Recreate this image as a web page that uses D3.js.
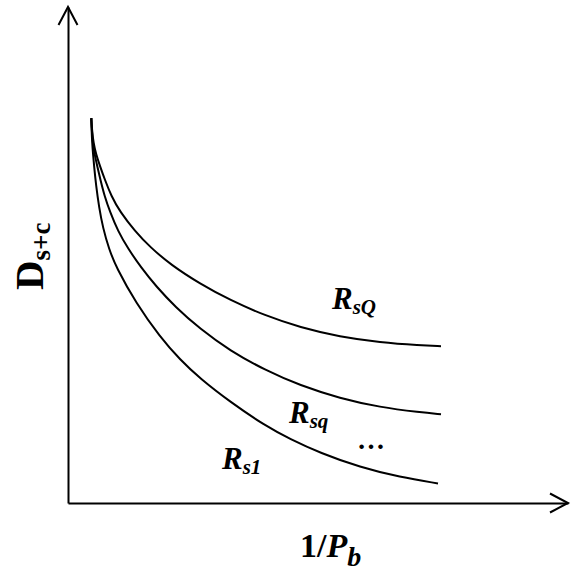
<!DOCTYPE html>
<html>
<head>
<meta charset="utf-8">
<script src="https://cdn.jsdelivr.net/npm/d3@7"></script>
<style>
    body { margin: 0; background: #fff; }
    text { font-family: "Liberation Serif", "Times New Roman", serif; font-weight: bold; }
</style>
</head>
<body>
<svg id="chart"></svg>
<script>
// curve values (x = 1/Pb, y = Ds+c, arbitrary units)
var curveNames = ["RsQ", "Rsq", "Rs1"];
var xRsQ = [4.66, 4.8, 5.1, 5.6, 6.34, 7.4, 8.66, 10.4, 13.4, 16.4, 20.6, 26.4, 32.4, 39.4, 46.4, 54.4, 62.4, 70.4, 74.6];
var yRsQ = [77.6, 75.2, 72.6, 70.4, 68.1, 65.1, 61.9, 58.7, 54.8, 51.6, 48.0, 44.2, 40.9, 37.8, 35.4, 33.5, 32.4, 31.8, 31.6];
var xRsq = [4.66, 4.76, 4.96, 5.3, 5.8, 6.5, 7.3, 8.4, 10.0, 12.0, 14.6, 17.6, 21.4, 26.4, 32.4, 39.4, 46.4, 54.4, 62.4, 70.4, 74.6];
var yRsq = [77.6, 75.2, 72.6, 70.4, 68.1, 65.1, 61.9, 58.7, 54.8, 51.3, 47.5, 43.7, 39.6, 35.1, 30.7, 26.8, 23.7, 21.1, 19.3, 18.3, 17.9];
var xRs1 = [4.66, 4.72, 4.84, 5.0, 5.24, 5.6, 6.2, 7.0, 8.2, 9.6, 13.6, 18.4, 22.4, 26.4, 32.4, 39.4, 44.4, 50.4, 58.4, 66.4, 74.0];
var yRs1 = [77.6, 75.2, 72.6, 70.4, 67.7, 64.1, 59.7, 55.4, 51.2, 47.6, 40.3, 33.5, 28.9, 25.1, 20.4, 15.6, 12.9, 10.1, 7.2, 5.2, 3.95];

var width = 585;
var height = 576;
var margin = {"left": 68, "right": 17, "top": 7, "bottom": 73};

var svg = d3.select("#chart")
    .attr("width", width)
    .attr("height", height);

var x = d3.scaleLinear()
    .domain([0, 100])
    .range([margin.left, width - margin.right]);

var y = d3.scaleLinear()
    .domain([0, 100])
    .range([height - margin.bottom, margin.top]);

// axes without ticks
svg.append("g")
    .attr("transform", "translate(0," + y(0) + ")")
    .call(d3.axisBottom(x).tickValues([]).tickSizeOuter(0))
    .select(".domain").attr("stroke-width", 2);

svg.append("g")
    .attr("transform", "translate(" + x(0) + ",0)")
    .call(d3.axisLeft(y).tickValues([]).tickSizeOuter(0))
    .select(".domain").attr("stroke-width", 2);

// open arrow heads
var xEnd = x(100), yEnd = y(100);
svg.append("path")
    .attr("d", "M" + (xEnd - 18) + "," + (y(0) - 9.5) + "L" + xEnd + "," + y(0) + "L" + (xEnd - 18) + "," + (y(0) + 9.5))
    .attr("fill", "none").attr("stroke", "#000").attr("stroke-width", 2);
svg.append("path")
    .attr("d", "M" + (x(0) - 9.5) + "," + (yEnd + 18) + "L" + x(0) + "," + yEnd + "L" + (x(0) + 9.5) + "," + (yEnd + 18))
    .attr("fill", "none").attr("stroke", "#000").attr("stroke-width", 2);

// curves
var line = d3.line()
    .x(d => x(d[0]))
    .y(d => y(d[1]))
    .curve(d3.curveBasis);

var series = [[xRsQ, yRsQ], [xRsq, yRsq], [xRs1, yRs1]];
series.forEach(function(s, i) {
    svg.append("path")
        .datum(d3.zip(s[0], s[1]))
        .attr("class", "curve " + curveNames[i])
        .attr("d", line)
        .attr("fill", "none")
        .attr("stroke", "#000")
        .attr("stroke-width", 2);
});

// curve labels
function label(px, py, main, sub) {
    var t = svg.append("text")
        .attr("x", px).attr("y", py)
        .style("font-style", "italic")
        .style("font-size", "31px");
    t.append("tspan").text(main);
    t.append("tspan").attr("dy", 5).style("font-size", "21px").text(sub);
}
label(332, 309, "R", "sQ");
label(289, 423, "R", "sq");
label(222, 469, "R", "s1");

svg.append("text")
    .attr("x", 357).attr("y", 449)
    .style("font-size", "28px")
    .text("\u2026");

// axis titles
var xt = svg.append("text")
    .attr("x", 300).attr("y", 557)
    .style("font-size", "34px");
xt.append("tspan").text("1/");
xt.append("tspan").style("font-style", "italic").text("P");
xt.append("tspan").attr("dy", 9).style("font-style", "italic").style("font-size", "28px").text("b");

var yt = svg.append("text")
    .attr("transform", "translate(43,290) rotate(-90)")
    .style("font-size", "41px");
yt.append("tspan").text("D");
yt.append("tspan").attr("dy", 7).style("font-size", "27px").text("s+c");
</script>
</body>
</html>
